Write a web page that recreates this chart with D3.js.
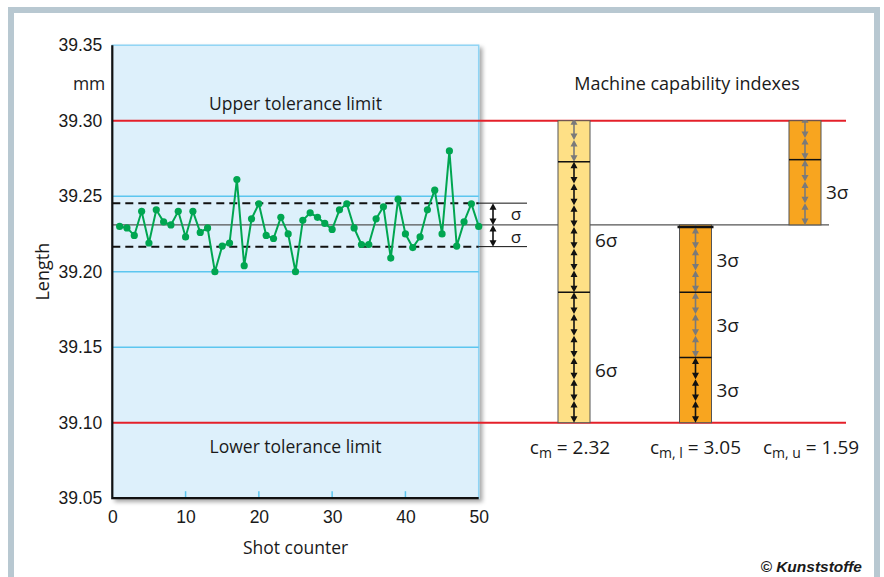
<!DOCTYPE html>
<html lang="en">
<head>
<meta charset="utf-8">
<style>
  body { margin: 0; background: #fff; }
  svg { display: block; font-family: "Open Sans", "Noto Sans", sans-serif; }
</style>
</head>
<body>
<div id="chart"></div>
<script src="https://cdn.jsdelivr.net/npm/d3@7"></script>
<script>
// measured length of each shot, shots 1..50
const shotLengths = [
  39.230, 39.229, 39.224, 39.240, 39.219, 39.241, 39.233, 39.231, 39.240, 39.223,
  39.240, 39.226, 39.229, 39.200, 39.217, 39.219, 39.261, 39.204, 39.235, 39.245,
  39.224, 39.222, 39.236, 39.225, 39.200, 39.234, 39.239, 39.236, 39.232, 39.228,
  39.241, 39.245, 39.229, 39.218, 39.218, 39.235, 39.243, 39.209, 39.248, 39.225,
  39.216, 39.223, 39.241, 39.254, 39.225, 39.280, 39.217, 39.233, 39.245, 39.230
];
const yTickValues = [39.05, 39.10, 39.15, 39.20, 39.25, 39.30, 39.35];
const xTickValues = [0, 10, 20, 30, 40, 50];
const gridValues = [39.15, 39.20, 39.25];
const lowerLimit = 39.10;
const upperLimit = 39.30;
const meanLength = 39.231;
const sigma = 0.0144;
const capKeys = ["m", "m, l", "m, u"];
const capValues = [2.32, 3.05, 1.59];

const width = 884, height = 577;
const svg = d3.select("#chart").append("svg")
  .attr("width", width)
  .attr("height", height);

// frame
svg.append("rect").attr("x", 8).attr("y", 7).attr("width", 872).attr("height", 600).attr("fill", "#b8c8d1");
svg.append("rect").attr("x", 14).attr("y", 13).attr("width", 860).attr("height", 600).attr("fill", "#fff");

const x = d3.scaleLinear().domain([0, 50]).range([112.3, 478.7]);
const y = d3.scaleLinear().domain([39.05, 39.35]).range([498.2, 45.2]);

const defs = svg.append("defs");
const shadow = defs.append("filter").attr("id", "shadow")
  .attr("x", "-5%").attr("y", "-5%").attr("width", "115%").attr("height", "115%");
shadow.append("feDropShadow").attr("dx", 3).attr("dy", 3).attr("stdDeviation", 2)
  .attr("flood-color", "#000").attr("flood-opacity", 0.35);

// plot box
svg.append("rect")
  .attr("x", x(0)).attr("y", y(39.35))
  .attr("width", x(50) - x(0)).attr("height", y(39.05) - y(39.35))
  .attr("fill", "#ddf0fb")
  .attr("stroke", "#8fd4f4").attr("stroke-width", 1.5)
  .attr("filter", "url(#shadow)");

// grid lines
svg.selectAll(".grid").data(gridValues).enter().append("line")
  .attr("x1", x(0)).attr("x2", x(50))
  .attr("y1", d => y(d)).attr("y2", d => y(d))
  .attr("stroke", "#5cc6ef").attr("stroke-width", 1.5);

// x ticks inside plot (light blue)
svg.selectAll(".xt").data(xTickValues.slice(1, -1)).enter().append("line")
  .attr("x1", d => x(d)).attr("x2", d => x(d))
  .attr("y1", y(39.05)).attr("y2", y(39.05) - 7)
  .attr("stroke", "#5cc6ef").attr("stroke-width", 1.5);

// mean line
svg.append("line")
  .attr("x1", x(0)).attr("x2", 829)
  .attr("y1", y(meanLength)).attr("y2", y(meanLength))
  .attr("stroke", "#555").attr("stroke-width", 1.3);

// mean +/- sigma: dashed in plot, solid outside
[meanLength + sigma, meanLength - sigma].forEach(v => {
  svg.append("line")
    .attr("x1", x(0)).attr("x2", x(50))
    .attr("y1", y(v)).attr("y2", y(v))
    .attr("stroke", "#111").attr("stroke-width", 2)
    .attr("stroke-dasharray", "8,5");
  svg.append("line")
    .attr("x1", x(50)).attr("x2", 527)
    .attr("y1", y(v)).attr("y2", y(v))
    .attr("stroke", "#111").attr("stroke-width", 1);
});

// tolerance limits
[upperLimit, lowerLimit].forEach(v => {
  svg.append("line")
    .attr("x1", x(0)).attr("x2", 846)
    .attr("y1", y(v)).attr("y2", y(v))
    .attr("stroke", "#e4202a").attr("stroke-width", 2);
});

// axes lines (left + bottom are black)
svg.append("path")
  .attr("d", `M${x(0)},${y(39.35)}V${y(39.05)}H${x(50)}`)
  .attr("fill", "none").attr("stroke", "#111").attr("stroke-width", 2.2);

// data line
const line = d3.line().x((d, i) => x(i + 1)).y(d => y(d));
svg.append("path").datum(shotLengths)
  .attr("d", line)
  .attr("fill", "none").attr("stroke", "#00a651").attr("stroke-width", 2);
svg.selectAll(".dot").data(shotLengths).enter().append("circle")
  .attr("cx", (d, i) => x(i + 1)).attr("cy", d => y(d))
  .attr("r", 3.6).attr("fill", "#00a651");

// axis labels
const yAxis = svg.append("g")
  .attr("transform", `translate(${x(0) - 7},0)`)
  .call(d3.axisLeft(y).tickValues(yTickValues).tickFormat(d3.format(".2f")).tickSize(0));
yAxis.select(".domain").remove();
yAxis.selectAll("text").attr("font-size", 17.5).attr("font-family", null).attr("fill", "#1a1a1a");

const xAxis = svg.append("g")
  .attr("transform", `translate(0,${y(39.05) + 9})`)
  .call(d3.axisBottom(x).tickValues(xTickValues).tickSize(0));
xAxis.select(".domain").remove();
xAxis.selectAll("text").attr("font-size", 17.5).attr("font-family", null).attr("fill", "#1a1a1a");

function label(text, tx, ty, anchor, size) {
  return svg.append("text").attr("x", tx).attr("y", ty)
    .attr("text-anchor", anchor || "middle")
    .attr("dominant-baseline", "central")
    .attr("font-size", size || 17.5).attr("fill", "#1a1a1a").text(text);
}
label("mm", x(0) - 7, y(39.325), "end");
label("Upper tolerance limit", (x(0) + x(50)) / 2, 103);
label("Lower tolerance limit", (x(0) + x(50)) / 2, 446);
label("Shot counter", (x(0) + x(50)) / 2, 547);
label("Machine capability indexes", 687, 83, "middle", 18);
label("Length", 0, 0, "middle", 18).attr("transform", `translate(42,${(y(39.35) + y(39.05)) / 2}) rotate(-90)`);

// double headed arrow
function arrow(g, cx, v0, v1, color) {
  const yb = y(v0), yt = y(v1);
  g.append("line").attr("x1", cx).attr("x2", cx).attr("y1", yb - 4).attr("y2", yt + 4)
    .attr("stroke", color).attr("stroke-width", 1.6);
  g.append("path")
    .attr("d", `M${cx},${yb}l-3.5,-6.5h7z M${cx},${yt}l-3.5,6.5h7z`)
    .attr("fill", color);
}

// sigma markers next to plot
const sg = svg.append("g");
arrow(sg, 493, meanLength, meanLength + sigma, "#111");
arrow(sg, 493, meanLength - sigma, meanLength, "#111");
label("σ", 516, y(meanLength + sigma / 2) - 1, "middle", 17);
label("σ", 516, y(meanLength - sigma / 2) + 1, "middle", 17);

// capability bars
const capX = d3.scaleOrdinal().domain(capKeys).range([574, 695.5, 805]);
const barW = 32;
const bars = [
  { key: capKeys[0], lo: lowerLimit, hi: upperLimit, step: 6, black: 12, fill: "#fee086", dy: 13 },
  { key: capKeys[1], lo: lowerLimit, hi: meanLength, step: 3, black: 3, fill: "#f8a51f", dy: 0 },
  { key: capKeys[2], lo: meanLength, hi: upperLimit, step: 3, black: 0, fill: "#f8a51f", dy: 0 }
];

bars.forEach((b, bi) => {
  const cx = capX(b.key);
  const x0 = cx - barW / 2;
  const g = svg.append("g");
  g.append("rect")
    .attr("x", x0).attr("y", y(b.hi))
    .attr("width", barW).attr("height", y(b.lo) - y(b.hi))
    .attr("fill", b.fill).attr("stroke", "#555").attr("stroke-width", 1);

  defs.append("clipPath").attr("id", "clip" + bi)
    .append("rect").attr("x", x0).attr("y", y(b.hi) - 0.5)
    .attr("width", barW).attr("height", y(b.lo) - y(b.hi) + 1);
  const ag = g.append("g").attr("clip-path", `url(#clip${bi})`);
  for (let j = 0; b.lo + j * sigma < b.hi; j++) {
    arrow(ag, cx, b.lo + j * sigma, b.lo + (j + 1) * sigma, j < b.black ? "#111" : "#7a7a7a");
  }

  // block divisions and labels
  for (let k = 1; b.lo + k * b.step * sigma < b.hi; k++) {
    const v = b.lo + k * b.step * sigma;
    const cap = bi === 1 && k === 3;
    g.append("line").attr("x1", x0 - (cap ? 2 : 0)).attr("x2", x0 + barW + (cap ? 2 : 0))
      .attr("y1", y(v)).attr("y2", y(v))
      .attr("stroke", "#111").attr("stroke-width", cap ? 2.5 : 1.5);
  }
  for (let k = 0; b.lo + (k + 1) * b.step * sigma <= b.hi; k++) {
    const v = b.lo + (k + 0.5) * b.step * sigma;
    label(b.step + "σ", x0 + barW + 5, y(v) + b.dy, "start", 19);
  }

  // index label
  const t = svg.append("text")
    .attr("x", cx - (bi === 0 ? 4 : 0) + (bi === 2 ? 6 : 0)).attr("y", 454)
    .attr("text-anchor", "middle")
    .attr("font-size", 19).attr("fill", "#1a1a1a");
  t.append("tspan").text("c");
  t.append("tspan").attr("font-size", 14).attr("dy", 4).text(b.key);
  t.append("tspan").attr("dy", -4).text(" = " + d3.format(".2f")(capValues[bi]));
});

// credit
svg.append("text")
  .attr("x", 862).attr("y", 572)
  .attr("text-anchor", "end")
  .attr("font-family", "'Liberation Sans Narrow', 'Liberation Sans', sans-serif")
  .attr("font-weight", "bold").attr("font-style", "italic")
  .attr("font-size", 15.5).attr("fill", "#1a1a1a")
  .text("© Kunststoffe");
</script>
</body>
</html>
